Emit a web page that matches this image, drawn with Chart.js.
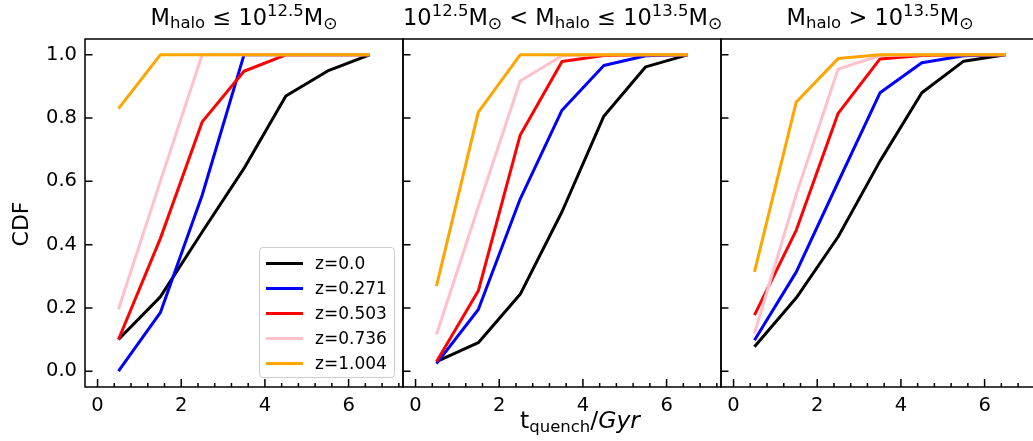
<!DOCTYPE html>
<html>
<head>
<meta charset="utf-8">
<script src="https://cdn.jsdelivr.net/npm/chart.js@4.4.0/dist/chart.umd.min.js"></script>
<style>
  html, body { margin: 0; padding: 0; background: #fff; overflow: hidden; }
  #figure { position: relative; width: 1033px; height: 441px; overflow: hidden; background: #fff;
            font-family: 'DejaVu Sans', sans-serif; color: #000; }
  #figure canvas { position: absolute; left: 0; top: 0; }
  .title { position: absolute; top: 6px; width: 318px; text-align: center; font-size: 22.5px;
           line-height: 22px; white-space: nowrap; }
  .sub { font-size: 16.5px; position: relative; top: 3.4px; }
  .odot { font-size: 17px; position: relative; top: 3.5px; }
  .sup { font-size: 16.5px; position: relative; top: -8.7px; }
  .rel { margin: 0 0.32em; }
  #xlabel { position: absolute; left: 480px; top: 409px; width: 200px; text-align: center;
            font-size: 23.5px; line-height: 22px; white-space: nowrap; }
  #xlabel .sub { font-size: 16.5px; top: 4px; }
  #ylabel { position: absolute; left: -29px; top: 213px; width: 100px; height: 22px; text-align: center;
            font-size: 22px; line-height: 22px; transform: rotate(-90deg); }
  #legend { position: absolute; left: 259px; top: 247px; width: 134px; height: 129px;
            border: 1px solid #cccccc; border-radius: 4px; background: rgba(255,255,255,0.8); }
  .legend-row { position: absolute; left: 0; height: 20px; width: 134px; }
  .legend-line { position: absolute; left: 6px; top: 8.5px; width: 37px; height: 3px; }
  .legend-text { position: absolute; left: 55px; top: 0; font-size: 17px; line-height: 20px; white-space: nowrap; }
</style>
</head>
<body>
<div id="figure">
  <canvas id="panel-low" width="1045" height="441"></canvas>
  <canvas id="panel-mid" width="1045" height="441"></canvas>
  <canvas id="panel-high" width="1045" height="441"></canvas>

  <div class="title" style="left:85px">M<span class="sub">halo</span><span class="rel">≤</span>10<span class="sup">12.5</span>M<span class="odot">⊙</span></div>
  <div class="title" style="left:403px">10<span class="sup">12.5</span>M<span class="odot">⊙</span><span class="rel">&lt;</span>M<span class="sub">halo</span><span class="rel">≤</span>10<span class="sup">13.5</span>M<span class="odot">⊙</span></div>
  <div class="title" style="left:721px">M<span class="sub">halo</span><span class="rel">&gt;</span>10<span class="sup">13.5</span>M<span class="odot">⊙</span></div>

  <div id="xlabel">t<span class="sub">quench</span>/<i>Gyr</i></div>
  <div id="ylabel">CDF</div>
  <div id="legend"></div>
</div>

<script>
// --- Data ---
const quenchTimes = [0.5, 1.5, 2.5, 3.5, 4.5, 5.5, 6.5];
const redshiftLabels = ['z=0.0', 'z=0.271', 'z=0.503', 'z=0.736', 'z=1.004'];

// CDF per redshift, M_halo <= 10^12.5
const lowMassCdf = [
    [0.100, 0.235, 0.440, 0.641, 0.870, 0.949, 1.0],
    [0.000, 0.185, 0.556, 1.000, 1.000, 1.000, 1.0],
    [0.100, 0.419, 0.788, 0.948, 1.000, 1.000, 1.0],
    [0.196, 0.600, 1.000, 1.000, 1.000, 1.000, 1.0],
    [0.830, 1.000, 1.000, 1.000, 1.000, 1.000, 1.0]
];
// 10^12.5 < M_halo <= 10^13.5
const midMassCdf = [
    [0.030, 0.090, 0.243, 0.504, 0.806, 0.962, 1.0],
    [0.024, 0.195, 0.544, 0.825, 0.966, 0.997, 1.0],
    [0.030, 0.254, 0.746, 0.979, 0.998, 1.000, 1.0],
    [0.116, 0.520, 0.917, 0.997, 1.000, 1.000, 1.0],
    [0.269, 0.819, 1.000, 1.000, 1.000, 1.000, 1.0]
];
// M_halo > 10^13.5
const highMassCdf = [
    [0.077, 0.232, 0.425, 0.664, 0.880, 0.980, 1.0],
    [0.098, 0.314, 0.598, 0.880, 0.975, 0.997, 1.0],
    [0.177, 0.446, 0.815, 0.987, 0.998, 1.000, 1.0],
    [0.119, 0.560, 0.955, 0.998, 1.000, 1.000, 1.0],
    [0.314, 0.851, 0.988, 1.000, 1.000, 1.000, 1.0]
];

const xMajorTicks = [0, 2, 4, 6];
const yMajorTicks = [0.0, 0.2, 0.4, 0.6, 0.8, 1.0];

// --- Style ---
const lineColors = ['#000000', '#0000ff', '#ff0000', '#ffc0cb', '#ffa500'];
const tickFont = { family: "'DejaVu Sans', sans-serif", size: 19.5 };
const canvasWidth = 1045;
const plotTop = 39;

const xMinorTicks = [];
for (let v = 0.4; v < 7.3; v += 0.4) {
    const r = Math.round(v * 10) / 10;
    if (!xMajorTicks.includes(r)) xMinorTicks.push(r);
}

// inward ticks + frame, drawn like matplotlib spines
const frameTicksPlugin = {
    id: 'frameTicks',
    afterDatasetsDraw(chart) {
        const { ctx, chartArea: a, scales } = chart;
        ctx.save();
        ctx.strokeStyle = '#000';
        ctx.lineWidth = 1.5;
        ctx.strokeRect(a.left, a.top, a.right - a.left, a.bottom - a.top);
        ctx.beginPath();
        yMajorTicks.forEach(v => {
            const py = scales.y.getPixelForValue(v);
            ctx.moveTo(a.left, py);
            ctx.lineTo(a.left + 7.5, py);
        });
        xMajorTicks.forEach(v => {
            const px = scales.x.getPixelForValue(v);
            ctx.moveTo(px, a.bottom);
            ctx.lineTo(px, a.bottom - 8);
        });
        xMinorTicks.forEach(v => {
            const px = scales.x.getPixelForValue(v);
            ctx.moveTo(px, a.bottom);
            ctx.lineTo(px, a.bottom - 4);
        });
        ctx.stroke();
        ctx.restore();
    }
};

function makePanel(canvasId, cdfRows, left, right, showYLabels) {
    const datasets = cdfRows.map((row, i) => ({
        label: redshiftLabels[i],
        data: quenchTimes.map((t, k) => ({ x: t, y: row[k] })),
        borderColor: lineColors[i],
        backgroundColor: lineColors[i],
        borderWidth: 3,
        pointRadius: 0,
        tension: 0,
        fill: false,
        borderJoinStyle: 'round',
        order: cdfRows.length - 1 - i
    }));

    return new Chart(document.getElementById(canvasId).getContext('2d'), {
        type: 'line',
        data: { datasets },
        options: {
            responsive: false,
            animation: false,
            events: [],
            layout: { padding: { left: showYLabels ? 0 : left, right: canvasWidth - right, top: plotTop, bottom: 0 } },
            plugins: { legend: { display: false }, tooltip: { enabled: false } },
            scales: {
                x: {
                    type: 'linear',
                    min: -0.3,
                    max: 7.3,
                    grid: { display: false, drawTicks: false },
                    border: { display: false },
                    afterBuildTicks: s => { s.ticks = xMajorTicks.map(v => ({ value: v })); },
                    afterFit: s => { s.height = 54; },
                    ticks: { font: tickFont, color: '#000', padding: 7, maxRotation: 0, autoSkip: false,
                             callback: v => String(v) }
                },
                y: {
                    type: 'linear',
                    min: -0.05,
                    max: 1.05,
                    display: showYLabels,
                    grid: { display: false, drawTicks: false },
                    border: { display: false },
                    afterBuildTicks: s => { s.ticks = yMajorTicks.map(v => ({ value: v })); },
                    afterFit: s => { s.width = showYLabels ? left : 0; },
                    ticks: { font: tickFont, color: '#000', padding: 8, autoSkip: false,
                             callback: v => v.toFixed(1) }
                }
            }
        },
        plugins: [frameTicksPlugin]
    });
}

function buildLegend() {
    const legend = document.getElementById('legend');
    redshiftLabels.forEach((label, i) => {
        const row = document.createElement('div');
        row.className = 'legend-row';
        row.style.top = (5 + i * 25) + 'px';
        const line = document.createElement('div');
        line.className = 'legend-line';
        line.style.background = lineColors[i];
        const text = document.createElement('div');
        text.className = 'legend-text';
        text.textContent = label;
        row.appendChild(line);
        row.appendChild(text);
        legend.appendChild(row);
    });
}

makePanel('panel-low', lowMassCdf, 85, 403, true);
makePanel('panel-mid', midMassCdf, 403, 721, false);
makePanel('panel-high', highMassCdf, 721, 1039, false);
buildLegend();
</script>
</body>
</html>
